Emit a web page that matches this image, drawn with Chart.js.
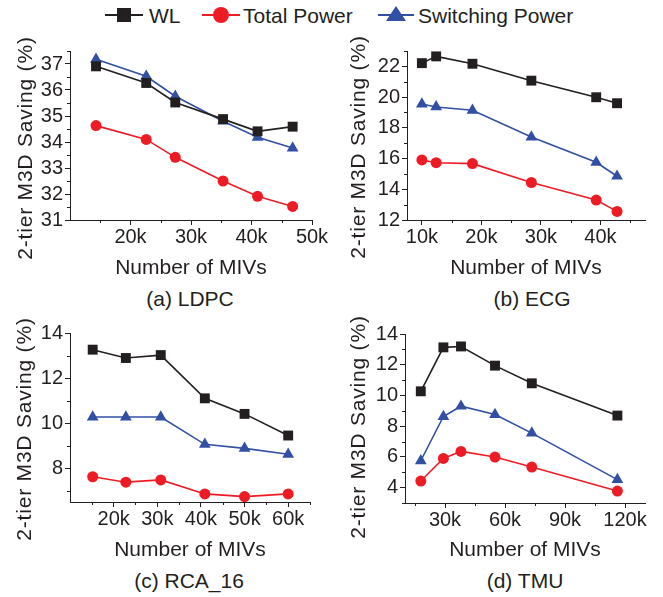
<!DOCTYPE html>
<html>
<head>
<meta charset="utf-8">
<script src="https://cdn.jsdelivr.net/npm/chart.js@4.4.1/dist/chart.umd.min.js"></script>
<style>
  body { margin: 0; background: #fff; font-family: "Liberation Sans", Arial, sans-serif; color: #231f20; }
  #wrap { position: relative; width: 663px; height: 597px; overflow: hidden; }
  .panel { position: absolute; }
  .ytitle { position: absolute; transform: translate(-50%, -50%) rotate(-90deg); white-space: nowrap; font-size: 21px; letter-spacing: 0.8px; }
  .caption { position: absolute; transform: translate(-50%, -50%); white-space: nowrap; font-size: 21px; }
  #legend { position: absolute; left: 0; top: 0; }
</style>
</head>
<body>
<div id="wrap">
  <svg id="legend" width="663" height="32">
    <line x1="105" y1="15" x2="143" y2="15" stroke="#231f20" stroke-width="2"/>
    <rect x="117" y="8" width="14" height="14" fill="#231f20"/>
    <text x="149" y="23" font-size="21" fill="#231f20" font-family="Liberation Sans, Arial, sans-serif">WL</text>
    <line x1="202" y1="15" x2="240" y2="15" stroke="#ed1c24" stroke-width="2"/>
    <circle cx="221" cy="15" r="8" fill="#ed1c24"/>
    <text x="243" y="23" font-size="21" fill="#231f20" font-family="Liberation Sans, Arial, sans-serif">Total Power</text>
    <line x1="378" y1="15" x2="414" y2="15" stroke="#3150a3" stroke-width="2"/>
    <polygon points="396,6 406,21 386,21" fill="#3150a3"/>
    <text x="418" y="23" font-size="21" fill="#231f20" font-family="Liberation Sans, Arial, sans-serif">Switching Power</text>
  </svg>

  <div class="panel" style="left:0px;top:37px"><canvas id="graficoLdpc" width="331" height="248"></canvas></div>
  <div class="panel" style="left:331px;top:37px"><canvas id="graficoEcg" width="332" height="248"></canvas></div>
  <div class="panel" style="left:0px;top:319px"><canvas id="graficoRca" width="331" height="248"></canvas></div>
  <div class="panel" style="left:331px;top:320px"><canvas id="graficoTmu" width="332" height="248"></canvas></div>

  <div class="ytitle" style="left:25px;top:148px">2-tier M3D Saving (%)</div>
  <div class="ytitle" style="left:358px;top:147px">2-tier M3D Saving (%)</div>
  <div class="ytitle" style="left:24px;top:429px">2-tier M3D Saving (%)</div>
  <div class="ytitle" style="left:358px;top:427px">2-tier M3D Saving (%)</div>

  <div class="caption" style="left:190px;top:299px">(a) LDPC</div>
  <div class="caption" style="left:532px;top:299px">(b) ECG</div>
  <div class="caption" style="left:189px;top:581px">(c) RCA_16</div>
  <div class="caption" style="left:525px;top:581px">(d) TMU</div>
</div>

<script>
const nomesSeries = ['WL', 'Total Power', 'Switching Power']
const tituloX = 'Number of MIVs'

// (a) LDPC
const mivLdpc = [14300, 22600, 27400, 35300, 41000, 46800]
const wlLdpc = [36.91, 36.27, 35.52, 34.88, 34.41, 34.59]
const totalLdpc = [34.63, 34.10, 33.41, 32.50, 31.91, 31.52]
const switchLdpc = [37.18, 36.53, 35.76, 34.80, 34.18, 33.77]
const ticksXLdpc = [20000, 30000, 40000, 50000]
const minorXLdpc = [15000, 25000, 35000, 45000]
const ticksYLdpc = [31, 32, 33, 34, 35, 36, 37]
const minorYLdpc = [31.5, 32.5, 33.5, 34.5, 35.5, 36.5, 37.5]

// (b) ECG
const mivEcg = [10000, 12400, 18500, 28400, 39300, 42800]
const wlEcg = [22.21, 22.65, 22.17, 21.07, 19.99, 19.60]
const totalEcg = [15.91, 15.73, 15.67, 14.44, 13.30, 12.56]
const switchEcg = [19.55, 19.36, 19.14, 17.40, 15.76, 14.85]
const ticksXEcg = [10000, 20000, 30000, 40000]
const minorXEcg = [15000, 25000, 35000, 45000]
const ticksYEcg = [12, 14, 16, 18, 20, 22]
const minorYEcg = [13, 15, 17, 19, 21, 23]

// (c) RCA_16
const mivRca = [15200, 22800, 30800, 40900, 50000, 60000]
const wlRca = [13.26, 12.89, 13.02, 11.10, 10.41, 9.45]
const totalRca = [7.62, 7.38, 7.48, 6.86, 6.74, 6.86]
const switchRca = [10.27, 10.27, 10.27, 9.06, 8.88, 8.62]
const ticksXRca = [20000, 30000, 40000, 50000, 60000]
const minorXRca = [15000, 25000, 35000, 45000, 55000, 65000]
const ticksYRca = [8, 10, 12, 14]
const minorYRca = [7, 9, 11, 13]

// (d) TMU
const mivTmu = [17900, 29200, 38000, 55000, 73400, 116200]
const wlTmu = [10.27, 13.13, 13.19, 11.94, 10.79, 8.69]
const totalTmu = [4.43, 5.90, 6.36, 5.99, 5.34, 3.78]
const switchTmu = [5.75, 8.63, 9.30, 8.76, 7.55, 4.52]
const ticksXTmu = [30000, 60000, 90000, 120000]
const minorXTmu = [15000, 45000, 75000, 105000]
const ticksYTmu = [4, 6, 8, 10, 12, 14]
const minorYTmu = [3, 5, 7, 9, 11, 13]

const tinta = '#231f20'
const preto = '#231f20'
const vermelho = '#ed1c24'
const azul = '#3150a3'
const fonte = "'Liberation Sans', Arial, sans-serif"

Chart.defaults.font.family = fonte
Chart.defaults.color = tinta

// ticks menores (mais curtos) desenhados pela escala do grafico
const ticksMenores = {
  id: 'ticksMenores',
  afterDraw(chart, args, opts) {
    const {ctx, chartArea, scales} = chart
    ctx.save()
    ctx.strokeStyle = tinta
    ctx.lineWidth = 1
    ctx.beginPath()
    opts.x.forEach(v => {
      const px = Math.round(scales.x.getPixelForValue(v)) + 0.5
      ctx.moveTo(px, chartArea.bottom)
      ctx.lineTo(px, chartArea.bottom + 3)
    })
    opts.y.forEach(v => {
      const py = Math.round(scales.y.getPixelForValue(v)) + 0.5
      ctx.moveTo(chartArea.left, py)
      ctx.lineTo(chartArea.left - 3, py)
    })
    ctx.stroke()
    ctx.restore()
  }
}

function montarDatasets(miv, wl, total, sw) {
  const pontos = valores => valores.map((v, i) => ({x: miv[i], y: v}))
  return [
    {
      label: nomesSeries[0], data: pontos(wl),
      borderColor: preto, backgroundColor: preto, borderWidth: 1.6,
      pointStyle: 'rect', pointRadius: 7, pointBorderWidth: 0
    },
    {
      label: nomesSeries[1], data: pontos(total),
      borderColor: vermelho, backgroundColor: vermelho, borderWidth: 1.6,
      pointStyle: 'circle', pointRadius: 5.5, pointBorderWidth: 0
    },
    {
      label: nomesSeries[2], data: pontos(sw),
      borderColor: azul, backgroundColor: azul, borderWidth: 1.6,
      pointStyle: 'triangle', pointRadius: 6.8, pointBorderWidth: 0
    }
  ]
}

function gerandoGrafico(id, datasets, cfg) {
  const ctx = document.querySelector(id).getContext('2d')
  return new Chart(ctx, {
    type: 'line',
    data: {datasets},
    plugins: [ticksMenores],
    options: {
      responsive: false,
      animation: false,
      devicePixelRatio: 1,
      layout: {padding: {top: cfg.padTop, right: cfg.padRight, left: 0, bottom: 0}},
      plugins: {
        legend: {display: false},
        tooltip: {enabled: false},
        ticksMenores: {x: cfg.minorX, y: cfg.minorY}
      },
      scales: {
        x: {
          type: 'linear', min: cfg.xMin, max: cfg.xMax,
          afterBuildTicks: eixo => { eixo.ticks = cfg.ticksX.map(v => ({value: v})) },
          afterFit: eixo => { eixo.height = 65 },
          ticks: {
            font: {size: 20}, color: tinta, padding: 0, maxRotation: 0, autoSkip: false,
            callback: v => (v / 1000) + 'k'
          },
          grid: {drawOnChartArea: false, drawTicks: true, tickLength: 5, color: tinta},
          border: {display: true, color: tinta, width: 1},
          title: {display: true, text: tituloX, font: {size: 21}, color: tinta, padding: {top: 0, bottom: cfg.titlePad}}
        },
        y: {
          min: cfg.yMin, max: cfg.yMax,
          afterBuildTicks: eixo => { eixo.ticks = cfg.ticksY.map(v => ({value: v})) },
          afterFit: eixo => { eixo.width = cfg.yWidth },
          ticks: {font: {size: 20}, color: tinta, padding: 2, autoSkip: false},
          grid: {drawOnChartArea: false, drawTicks: true, tickLength: 5, color: tinta},
          border: {display: true, color: tinta, width: 1}
        }
      }
    }
  })
}

gerandoGrafico('#graficoLdpc', montarDatasets(mivLdpc, wlLdpc, totalLdpc, switchLdpc), {
  xMin: 10000, xMax: 50000, yMin: 31, yMax: 37.5,
  ticksX: ticksXLdpc, ticksY: ticksYLdpc, minorX: minorXLdpc, minorY: minorYLdpc,
  padTop: 13, padRight: 19, yWidth: 70, titlePad: 4
})

gerandoGrafico('#graficoEcg', montarDatasets(mivEcg, wlEcg, totalEcg, switchEcg), {
  xMin: 7500, xMax: 47500, yMin: 12, yMax: 23,
  ticksX: ticksXEcg, ticksY: ticksYEcg, minorX: minorXEcg, minorY: minorYEcg,
  padTop: 12, padRight: 18, yWidth: 76, titlePad: 4
})

gerandoGrafico('#graficoRca', montarDatasets(mivRca, wlRca, totalRca, switchRca), {
  xMin: 10000, xMax: 65000, yMin: 6.5, yMax: 14,
  ticksX: ticksXRca, ticksY: ticksYRca, minorX: minorXRca, minorY: minorYRca,
  padTop: 13, padRight: 21, yWidth: 70, titlePad: 4
})

gerandoGrafico('#graficoTmu', montarDatasets(mivTmu, wlTmu, totalTmu, switchTmu), {
  xMin: 10000, xMax: 130000, yMin: 3, yMax: 14,
  ticksX: ticksXTmu, ticksY: ticksYTmu, minorX: minorXTmu, minorY: minorYTmu,
  padTop: 13, padRight: 18, yWidth: 74, titlePad: 5
})
</script>
</body>
</html>
